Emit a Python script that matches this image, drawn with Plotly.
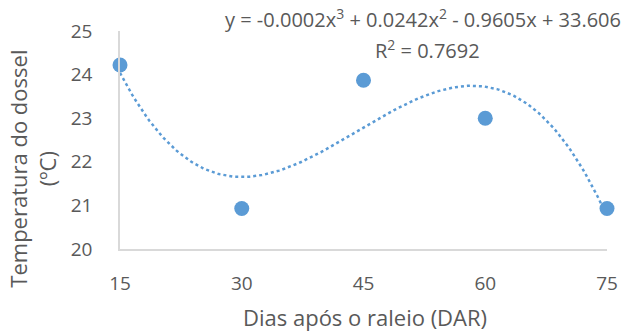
import numpy as np
import plotly.graph_objects as go

dias = [15, 30, 45, 60, 75]
temperatura = [24.22, 20.93, 23.87, 23.0, 20.93]
x_ticks = [15, 30, 45, 60, 75]
y_ticks = [20, 21, 22, 23, 24, 25]

x_title = "Dias após o raleio (DAR)"
y_title = "Temperatura do dossel<br>(ºC)"
eq_text = "y = -0.0002x<sup>3</sup> + 0.0242x<sup>2</sup> - 0.9605x + 33.606"
r2_text = "R<sup>2</sup> = 0.7692"

# Polynomial (order 3) trendline fitted from the data, like the spreadsheet trendline
coef = np.polyfit(dias, temperatura, 3)
xs = np.linspace(min(dias), max(dias), 200)
ys = np.polyval(coef, xs)

FONT = "Open Sans, Lato, sans-serif"
GRAY = "#595959"
BLUE = "#5B9BD5"

fig = go.Figure()
fig.add_trace(go.Scatter(x=xs, y=ys, mode="lines",
                         line=dict(color=BLUE, width=2.5, dash="dot"),
                         hoverinfo="skip", showlegend=False))
fig.add_trace(go.Scatter(x=dias, y=temperatura, mode="markers",
                         marker=dict(color=BLUE, size=15), cliponaxis=False,
                         showlegend=False))

fig.update_layout(
    width=641, height=332,
    margin=dict(l=120, r=34, t=31, b=83),
    paper_bgcolor="white", plot_bgcolor="white",
    font=dict(family=FONT, color=GRAY, size=19),
    xaxis=dict(range=[15, 75], tickvals=x_ticks, showgrid=False, zeroline=False,
               showline=True, linecolor="#D9D9D9", linewidth=1.5, automargin=False,
               ticks="", ticklabelstandoff=16, tickfont=dict(size=19, color=GRAY)),
    yaxis=dict(range=[20, 25], tickvals=y_ticks, showgrid=False, zeroline=False,
               showline=True, linecolor="#D9D9D9", linewidth=1.5, automargin=False,
               ticks="", ticklabelstandoff=22, tickfont=dict(size=19, color=GRAY)),
    annotations=[
        dict(text=eq_text, xref="paper", yref="paper", x=0.622, y=1.058,
             showarrow=False, xanchor="center", yanchor="middle",
             font=dict(size=20, color=GRAY)),
        dict(text=r2_text, xref="paper", yref="paper", x=0.632, y=0.917,
             showarrow=False, xanchor="center", yanchor="middle",
             font=dict(size=20, color=GRAY)),
        dict(text=x_title, xref="paper", yref="paper", x=0.503, y=-0.31,
             showarrow=False, xanchor="center", yanchor="middle",
             font=dict(size=22, color=GRAY)),
        dict(text=y_title, xref="paper", yref="paper", x=-0.18, y=0.37,
             showarrow=False, xanchor="center", yanchor="middle", textangle=-90,
             font=dict(size=22, color=GRAY)),
    ],
)

fig.write_html("out.html", config={"displayModeBar": False},
               post_script="document.body.style.margin='0';")
